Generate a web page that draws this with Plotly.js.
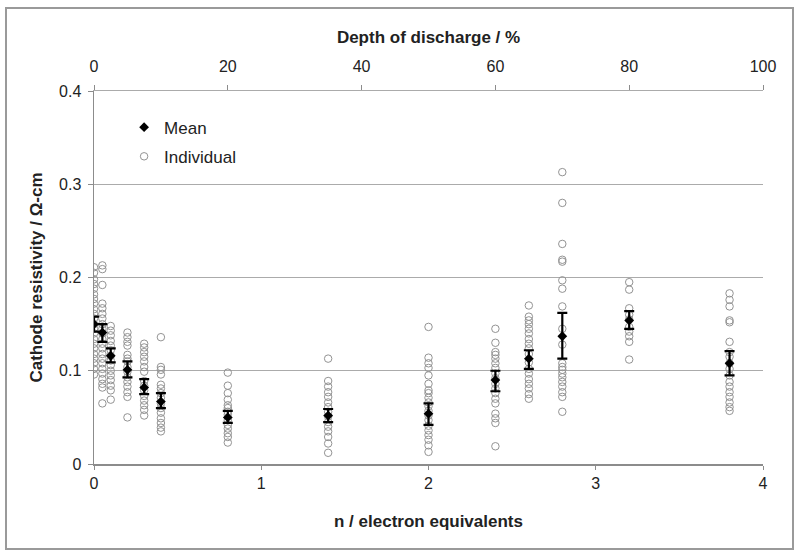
<!DOCTYPE html>
<html>
<head>
<meta charset="utf-8">
<script src="https://cdn.plot.ly/plotly-3.0.1.min.js"></script>
<style>
  html, body { margin: 0; padding: 0; background: #fff; }
  #wrap { position: relative; width: 800px; height: 558px; }
  #frame { position: absolute; left: 5px; top: 7px; width: 785px; height: 539px; border: 2px solid #9a9a9a; pointer-events: none; }
  #chart { position: absolute; left: 0; top: 0; width: 800px; height: 558px; }
</style>
</head>
<body>
<div id="wrap">
  <div id="chart"></div>
  <div id="frame"></div>
</div>
<script>
// n / electron equivalents for each measured group
const nLevels = [0, 0.05, 0.1, 0.2, 0.3, 0.4, 0.8, 1.4, 2.0, 2.4, 2.6, 2.8, 3.2, 3.8];

// Mean cathode resistivity (ohm-cm) and error bar extents
const meanVals  = [0.150, 0.141, 0.116, 0.101, 0.082, 0.067, 0.050, 0.052, 0.054, 0.090, 0.113, 0.137, 0.154, 0.108];
const errPlus   = [0.008, 0.009, 0.008, 0.009, 0.009, 0.009, 0.007, 0.007, 0.011, 0.010, 0.009, 0.025, 0.010, 0.013];
const errMinus  = [0.008, 0.010, 0.007, 0.008, 0.007, 0.007, 0.006, 0.007, 0.012, 0.012, 0.011, 0.024, 0.009, 0.013];

// Individual measurements per group (same order as nLevels)
const indiv_n0_00 = [0.211, 0.205, 0.198, 0.193, 0.188, 0.182, 0.177, 0.172, 0.166, 0.161, 0.156, 0.150, 0.145, 0.140, 0.134, 0.129, 0.124, 0.118, 0.113, 0.108, 0.102, 0.096];
const indiv_n0_05 = [0.213, 0.209, 0.192, 0.172, 0.167, 0.161, 0.156, 0.150, 0.145, 0.140, 0.134, 0.129, 0.124, 0.118, 0.113, 0.108, 0.102, 0.097, 0.091, 0.086, 0.082, 0.065];
const indiv_n0_10 = [0.148, 0.143, 0.138, 0.132, 0.127, 0.122, 0.116, 0.111, 0.106, 0.100, 0.095, 0.090, 0.084, 0.079, 0.069];
const indiv_n0_20 = [0.141, 0.136, 0.131, 0.127, 0.117, 0.113, 0.110, 0.104, 0.099, 0.093, 0.088, 0.083, 0.077, 0.072, 0.050];
const indiv_n0_30 = [0.129, 0.125, 0.120, 0.115, 0.110, 0.104, 0.099, 0.089, 0.084, 0.079, 0.073, 0.068, 0.063, 0.058, 0.052];
const indiv_n0_40 = [0.136, 0.104, 0.101, 0.096, 0.085, 0.081, 0.076, 0.071, 0.065, 0.060, 0.055, 0.049, 0.044, 0.039, 0.035];
const indiv_n0_80 = [0.098, 0.084, 0.076, 0.069, 0.063, 0.060, 0.056, 0.053, 0.047, 0.042, 0.038, 0.033, 0.029, 0.023];
const indiv_n1_40 = [0.113, 0.089, 0.083, 0.077, 0.072, 0.066, 0.061, 0.056, 0.051, 0.045, 0.040, 0.035, 0.029, 0.022, 0.012];
const indiv_n2_00 = [0.147, 0.114, 0.108, 0.103, 0.095, 0.086, 0.079, 0.076, 0.071, 0.066, 0.062, 0.057, 0.052, 0.047, 0.041, 0.036, 0.031, 0.026, 0.020, 0.013];
const indiv_n2_40 = [0.145, 0.130, 0.120, 0.117, 0.113, 0.108, 0.103, 0.097, 0.092, 0.086, 0.081, 0.076, 0.070, 0.065, 0.054, 0.049, 0.044, 0.019];
const indiv_n2_60 = [0.170, 0.158, 0.154, 0.150, 0.145, 0.140, 0.134, 0.129, 0.124, 0.118, 0.109, 0.102, 0.097, 0.091, 0.086, 0.081, 0.075, 0.070];
const indiv_n2_80 = [0.313, 0.280, 0.236, 0.219, 0.217, 0.197, 0.188, 0.169, 0.145, 0.128, 0.108, 0.104, 0.101, 0.097, 0.093, 0.088, 0.083, 0.077, 0.072, 0.056];
const indiv_n3_20 = [0.195, 0.187, 0.167, 0.160, 0.155, 0.147, 0.142, 0.137, 0.131, 0.112];
const indiv_n3_80 = [0.183, 0.176, 0.169, 0.154, 0.152, 0.131, 0.120, 0.115, 0.108, 0.102, 0.095, 0.088, 0.083, 0.077, 0.072, 0.066, 0.061, 0.057];

const individuals = [indiv_n0_00, indiv_n0_05, indiv_n0_10, indiv_n0_20, indiv_n0_30, indiv_n0_40,
                     indiv_n0_80, indiv_n1_40, indiv_n2_00, indiv_n2_40, indiv_n2_60, indiv_n2_80,
                     indiv_n3_20, indiv_n3_80];

// Depth of discharge (%) corresponding to n (100 % at n = 4)
const dodPerN = 25;

const indX = [], indY = [];
individuals.forEach((arr, i) => arr.forEach(v => { indX.push(nLevels[i]); indY.push(v); }));

const FONT = "'Liberation Sans', Arial, sans-serif";
const TXT = '#222222';
const AX = '#8c8c8c';
const GRID = '#ababab';

const traces = [
  {
    type: 'scatter', mode: 'markers', name: 'Individual',
    x: indX, y: indY,
    legendgroup: 'b', legendrank: 2,
    marker: { symbol: 'circle-open', size: 7.5, color: '#939393', line: { width: 1, color: '#939393' } },
    hoverinfo: 'x+y'
  },
  {
    type: 'scatter', mode: 'markers', name: 'Mean',
    x: nLevels, y: meanVals,
    legendgroup: 'a', legendrank: 1,
    marker: { symbol: 'diamond', size: 7.5, color: '#000' },
    error_y: { type: 'data', symmetric: false, array: errPlus, arrayminus: errMinus,
               color: '#000', thickness: 2.2, width: 5 },
    hoverinfo: 'x+y'
  },
  {
    type: 'scatter', mode: 'markers', name: 'DOD',
    x: nLevels.map(n => n * dodPerN), y: meanVals,
    xaxis: 'x2', yaxis: 'y',
    marker: { size: 1, opacity: 0 }, showlegend: false, hoverinfo: 'skip'
  }
];

const layout = {
  width: 800, height: 558,
  margin: { l: 94, r: 37, t: 91, b: 94 },
  paper_bgcolor: 'rgba(0,0,0,0)',
  plot_bgcolor: 'rgba(0,0,0,0)',
  font: { family: FONT, size: 16, color: TXT },
  showlegend: true,
  legend: {
    x: 0.045, y: 0.95, xanchor: 'left', yanchor: 'top',
    bgcolor: 'rgba(0,0,0,0)', font: { family: FONT, size: 17, color: TXT },
    tracegroupgap: 4, traceorder: 'grouped'
  },
  xaxis: {
    range: [0, 4], dtick: 1, tick0: 0,
    showgrid: false, zeroline: false,
    showline: true, linecolor: AX, linewidth: 1.5,
    ticks: 'outside', ticklen: 4, tickcolor: AX, tickwidth: 1,
    tickfont: { family: FONT, size: 16, color: TXT },
    title: { text: '<b>n / electron equivalents</b>', font: { family: FONT, size: 17, color: TXT }, standoff: 24 },
    automargin: false
  },
  xaxis2: {
    overlaying: 'x', side: 'top', anchor: 'y',
    range: [0, 100], dtick: 20, tick0: 0,
    showgrid: false, zeroline: false,
    showline: true, linecolor: GRID, linewidth: 1,
    ticks: 'outside', ticklen: 5, tickcolor: AX, tickwidth: 1,
    ticklabelstandoff: 7,
    tickfont: { family: FONT, size: 16, color: TXT },
    title: { text: '<b>Depth of discharge / %</b>', font: { family: FONT, size: 17, color: TXT }, standoff: 9 },
    automargin: false
  },
  yaxis: {
    range: [0, 0.4], dtick: 0.1, tick0: 0,
    showgrid: true, gridcolor: GRID, gridwidth: 1,
    zeroline: false,
    showline: true, linecolor: AX, linewidth: 1.5,
    ticks: 'outside', ticklen: 5, tickcolor: AX, tickwidth: 1,
    ticklabelstandoff: 3,
    tickfont: { family: FONT, size: 16, color: TXT },
    title: { text: '<b>Cathode resistivity / Ω-cm</b>', font: { family: FONT, size: 17, color: TXT }, standoff: 12 },
    automargin: false
  }
};

Plotly.newPlot('chart', traces, layout, { staticPlot: true, displayModeBar: false });
</script>
</body>
</html>
